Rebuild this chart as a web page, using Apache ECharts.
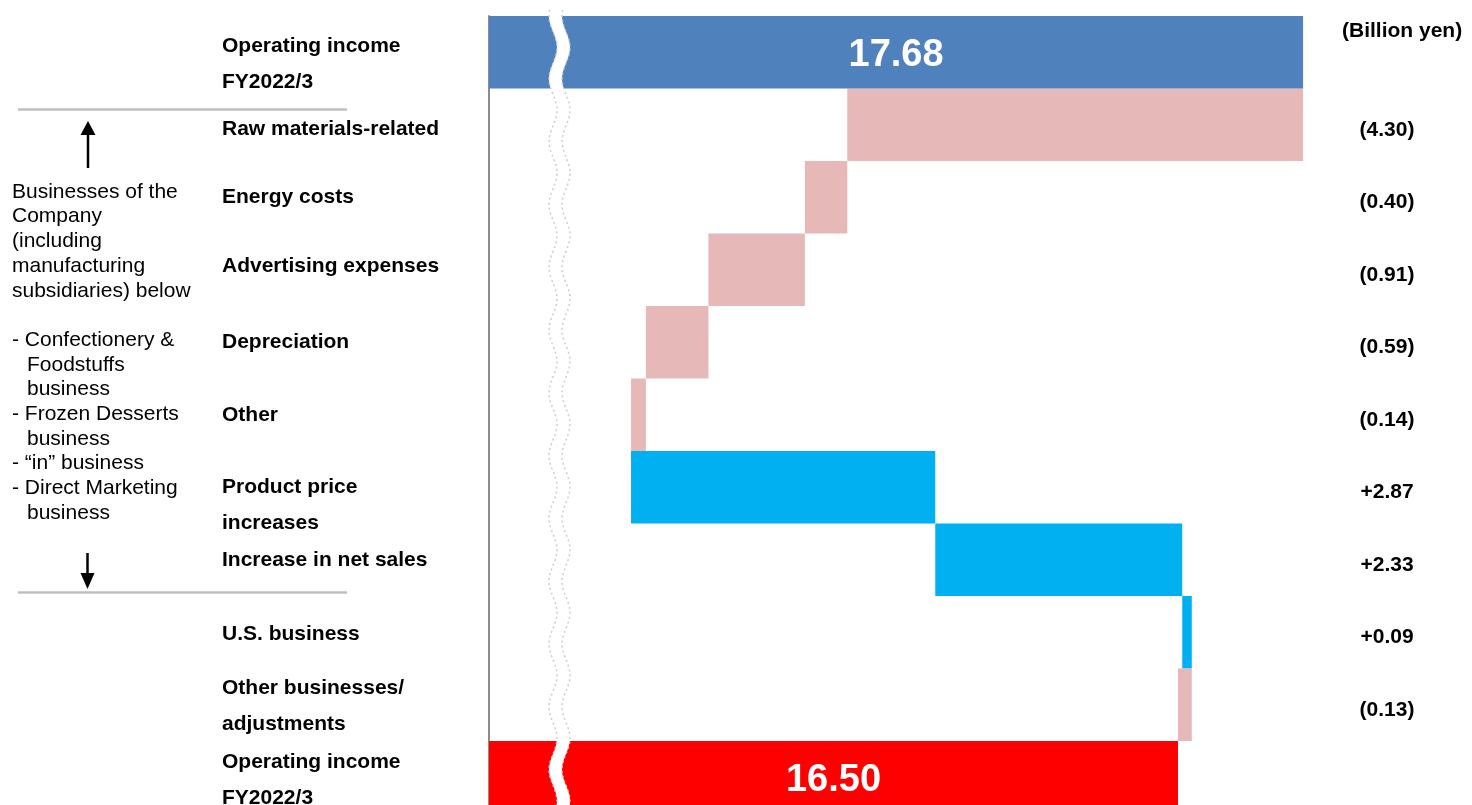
<!DOCTYPE html>
<html>
<head>
<meta charset="utf-8">
<script src="https://cdn.jsdelivr.net/npm/echarts@6/dist/echarts.min.js"></script>
<style>
html, body { margin: 0; padding: 0; background: #fff; }
#container { width: 1472px; height: 805px; }
</style>
</head>
<body>
<div id="container"></div>
<script>
// categories, top to bottom
var categories = ['Operating income\nFY2022/3', 'Raw materials-related', 'Energy costs', 'Advertising expenses',
	'Depreciation', 'Other', 'Product price\nincreases', 'Increase in net sales', 'U.S. business',
	'Other businesses/\nadjustments', 'Operating income\nFY2022/3'];
var startValue = 17.68;
var endValue = 16.50;
var changes = [-4.30, -0.40, -0.91, -0.59, -0.14, 2.87, 2.33, 0.09, -0.13];
var changeLabels = ['(4.30)', '(0.40)', '(0.91)', '(0.59)', '(0.14)', '+2.87', '+2.33', '+0.09', '(0.13)'];
var unitText = '(Billion yen)';
var noteLines = ['Businesses of the', 'Company', '(including', 'manufacturing', 'subsidiaries) below', '',
	'- Confectionery &', '  Foodstuffs', '  business', '- Frozen Desserts', '  business',
	'- \u201cin\u201d business', '- Direct Marketing', '  business'];

var FONT = '"Liberation Sans", Arial, sans-serif';

// waterfall: transparent base + visible change, totals drawn separately
var baseData = ['-'], changeData = ['-'], totalData = [startValue];
var running = startValue;
for (var i = 0; i < changes.length; ++i) {
	var next = Math.round((running + changes[i]) * 100) / 100;
	baseData.push(Math.min(running, next));
	changeData.push(Math.abs(changes[i]));
	totalData.push('-');
	running = next;
}
baseData.push('-');
changeData.push('-');
totalData.push(endValue);

var valueLabels = [''].concat(changeLabels, ['']);

// small vertical nudges of the category labels (px, + is down), done with spacer lines
var labelShift = { 0: 12, 1: 4, 3: -4, 6: 18, 8: 2, 9: 1.5, 10: 3 };
var richSpacers = {};
for (var key in labelShift) {
	richSpacers['s' + key] = { lineHeight: Math.abs(labelShift[key]) * 2, fontSize: 1 };
}
function shiftLabel(text, index) {
	var s = labelShift[index];
	if (!s) return text;
	return s > 0 ? '{s' + index + '| }\n' + text : text + '\n{s' + index + '| }';
}

// wavy axis break
function wave(y) {
	return 553 - 4 * Math.cos(2 * Math.PI * (y - 16) / 62.8);
}
var leftEdge = [], rightEdge = [];
for (var y = 10; y <= 810; y += 2) {
	leftEdge.push([wave(y), y]);
	rightEdge.push([wave(y) + 13, y]);
}
var breakShape = leftEdge.concat(rightEdge.slice().reverse());

var graphics = [
	{ type: 'polygon', z: 100, shape: { points: breakShape }, style: { fill: '#fff' } },
	{ type: 'polyline', z: 101, shape: { points: leftEdge }, style: { stroke: '#cccccc', lineWidth: 1.5, lineDash: [2, 3], fill: null } },
	{ type: 'polyline', z: 101, shape: { points: rightEdge }, style: { stroke: '#cccccc', lineWidth: 1.5, lineDash: [2, 3], fill: null } },
	{ type: 'line', z: 100, shape: { x1: 18, y1: 109.5, x2: 347, y2: 109.5 }, style: { stroke: '#bfbfbf', lineWidth: 2.3 } },
	{ type: 'line', z: 100, shape: { x1: 18, y1: 592.5, x2: 347, y2: 592.5 }, style: { stroke: '#bfbfbf', lineWidth: 2.3 } },
	{ type: 'line', z: 100, shape: { x1: 88, y1: 168, x2: 88, y2: 132 }, style: { stroke: '#000', lineWidth: 2.5 } },
	{ type: 'polygon', z: 100, shape: { points: [[80.5, 135], [95.5, 135], [88, 121]] }, style: { fill: '#000' } },
	{ type: 'line', z: 100, shape: { x1: 87.5, y1: 553, x2: 87.5, y2: 576 }, style: { stroke: '#000', lineWidth: 2.5 } },
	{ type: 'polygon', z: 100, shape: { points: [[80.5, 573], [94.5, 573], [87.5, 589]] }, style: { fill: '#000' } },
	{ type: 'text', z: 100, x: 1342, y: 31,
		style: { text: unitText, fill: '#000', font: 'bold 21px ' + FONT, verticalAlign: 'middle' } }
];
for (var k = 0; k < noteLines.length; ++k) {
	var line = noteLines[k];
	if (!line) continue;
	var indent = line.indexOf('  ') === 0;
	graphics.push({
		type: 'text', z: 100,
		x: indent ? 27 : 12,
		y: 192 + 24.7 * k,
		style: { text: indent ? line.slice(2) : line, fill: '#000', font: '21px ' + FONT, verticalAlign: 'middle' }
	});
}

var myChart = echarts.init(document.getElementById('container'));
var option = {
	animation: false,
	backgroundColor: '#fff',
	grid: { left: 489, top: 16, width: 848, height: 797.5, containLabel: false, outerBoundsMode: 'none' },
	xAxis: {
		type: 'value',
		min: 10,
		max: 18,
		show: false
	},
	yAxis: [
		{
			type: 'category',
			inverse: true,
			data: categories,
			axisLine: { show: true, lineStyle: { color: '#8c8c8c', width: 2 } },
			axisTick: { show: false },
			splitLine: { show: false },
			axisLabel: {
				interval: 0,
				margin: 267,
				align: 'left',
				color: '#000',
				fontFamily: FONT,
				fontWeight: 'bold',
				fontSize: 21,
				lineHeight: 36,
				formatter: function (value, index) {
					return shiftLabel(categories[index], index);
				},
				rich: richSpacers
			}
		},
		{
			type: 'category',
			inverse: true,
			position: 'right',
			data: categories,
			axisLine: { show: false },
			axisTick: { show: false },
			splitLine: { show: false },
			axisLabel: {
				interval: 0,
				margin: 50,
				align: 'center',
				color: '#000',
				fontFamily: FONT,
				fontWeight: 'bold',
				fontSize: 21,
				lineHeight: 24,
				formatter: function (value, index) {
					return valueLabels[index] ? '{sp| }\n' + valueLabels[index] : '';
				},
				rich: {
					sp: { lineHeight: 10, fontSize: 1 }
				}
			}
		}
	],
	series: [
		{
			name: 'base',
			type: 'bar',
			stack: 'wf',
			barCategoryGap: '0%',
			barGap: '-100%',
			itemStyle: { color: 'rgba(0,0,0,0)' },
			data: baseData
		},
		{
			name: 'change',
			type: 'bar',
			stack: 'wf',
			barCategoryGap: '0%',
			barGap: '-100%',
			itemStyle: {
				color: function (p) {
					return changes[p.dataIndex - 1] > 0 ? '#00b0f0' : '#e6b9b8';
				}
			},
			data: changeData
		},
		{
			name: 'total',
			type: 'bar',
			barCategoryGap: '0%',
			barGap: '-100%',
			itemStyle: {
				color: function (p) {
					return p.dataIndex === 0 ? '#4f81bd' : '#ff0000';
				}
			},
			label: {
				show: true,
				position: 'inside',
				offset: [0, 3],
				color: '#fff',
				fontFamily: FONT,
				fontWeight: 'bold',
				fontSize: 38,
				formatter: function (p) {
					return p.value.toFixed(2);
				}
			},
			data: totalData
		}
	],
	graphic: graphics
};
myChart.setOption(option);
</script>
</body>
</html>
